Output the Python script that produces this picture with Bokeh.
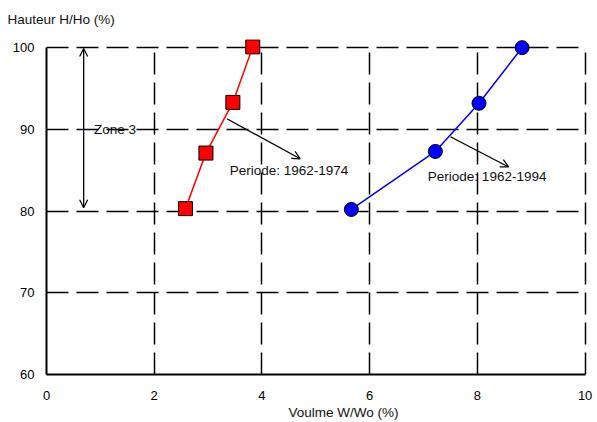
from bokeh.plotting import figure
from bokeh.models import Range1d, FixedTicker, Label, Arrow, OpenHead, Title
from bokeh.embed import file_html
from bokeh.resources import INLINE

# Data
vol_1974 = [2.58, 2.96, 3.46, 3.83]
hau_1974 = [80.3, 87.1, 93.3, 100.1]
vol_1994 = [5.66, 7.22, 8.03, 8.83]
hau_1994 = [80.2, 87.3, 93.2, 100.0]
x_ticks = [0, 2, 4, 6, 8, 10]
y_ticks = [60, 70, 80, 90, 100]

FONT = "Liberation Sans"

p = figure(width=597, height=422, output_backend="svg", toolbar_location=None,
           x_range=Range1d(0, 10.1), y_range=Range1d(60, 101),
           min_border_left=46, min_border_right=7, min_border_top=39, min_border_bottom=48)
p.outline_line_color = None
p.background_fill_color = "white"

for ax in (p.xaxis[0], p.yaxis[0]):
    ax.major_tick_out = 0
    ax.major_tick_in = 0
    ax.minor_tick_out = 0
    ax.minor_tick_in = 0
    ax.axis_line_width = 2
    ax.axis_line_color = "black"
    ax.major_label_text_font = FONT
    ax.major_label_text_font_size = "13px"
    ax.major_label_text_color = "black"

p.xaxis[0].ticker = FixedTicker(ticks=x_ticks)
p.yaxis[0].ticker = FixedTicker(ticks=y_ticks)
p.xaxis[0].bounds = (0, 10)
p.yaxis[0].bounds = (60, 100)
p.xaxis[0].major_label_standoff = 16
p.yaxis[0].major_label_standoff = 12

p.xgrid[0].ticker = FixedTicker(ticks=[2, 4, 6, 8, 10])
p.ygrid[0].ticker = FixedTicker(ticks=[70, 80, 90, 100])
for g in (p.xgrid[0], p.ygrid[0]):
    g.grid_line_color = "black"
    g.grid_line_width = 1.5
    g.grid_line_dash = "22 8"
    g.grid_line_alpha = 1.0
p.xgrid[0].cross_bounds = (60, 100)
p.ygrid[0].cross_bounds = (0, 10)

# Series
p.line(vol_1974, hau_1974, line_color="#ff0000", line_width=1.5)
p.scatter(vol_1974, hau_1974, marker="square", size=14, fill_color="#ff0000",
          line_color="black", line_width=1)
p.line(vol_1994, hau_1994, line_color="#0000ff", line_width=1.5)
p.scatter(vol_1994, hau_1994, marker="circle", size=14, fill_color="#0000ff",
          line_color="black", line_width=1)

# Annotations
p.add_layout(Arrow(x_start=0.69, y_start=80.4, x_end=0.69, y_end=99.9,
                   start=OpenHead(size=8, line_width=1.2), end=OpenHead(size=8, line_width=1.2),
                   line_width=1.3, line_color="black"))
p.add_layout(Arrow(x_start=3.35, y_start=91.3, x_end=4.71, y_end=86.4,
                   end=OpenHead(size=8, line_width=1.2), line_width=1.3, line_color="black"))
p.add_layout(Arrow(x_start=7.50, y_start=89.1, x_end=8.58, y_end=85.4,
                   end=OpenHead(size=8, line_width=1.2), line_width=1.3, line_color="black"))

def lbl(x, y, t):
    p.add_layout(Label(x=x, y=y, text=t, text_font=FONT, text_font_size="13.5px",
                       text_color="#111111", text_align="left", text_baseline="middle"))

lbl(0.88, 90, "Zone 3")
lbl(3.40, 84.95, "Periode: 1962-1974")
lbl(7.08, 84.2, "Periode: 1962-1994")

# Axis titles
p.add_layout(Title(text="Hauteur H/Ho (%)", align="left", offset=-39, standoff=21,
                   vertical_align="top",
                   text_font=FONT, text_font_size="13.5px", text_font_style="normal",
                   text_color="#111111"), "above")
p.add_layout(Title(text="Voulme W/Wo (%)", align="left", offset=242, standoff=0,
                   text_font=FONT, text_font_size="13.5px", text_font_style="normal",
                   text_color="#111111"), "below")

open("out.html", "w").write(file_html(p, INLINE))
